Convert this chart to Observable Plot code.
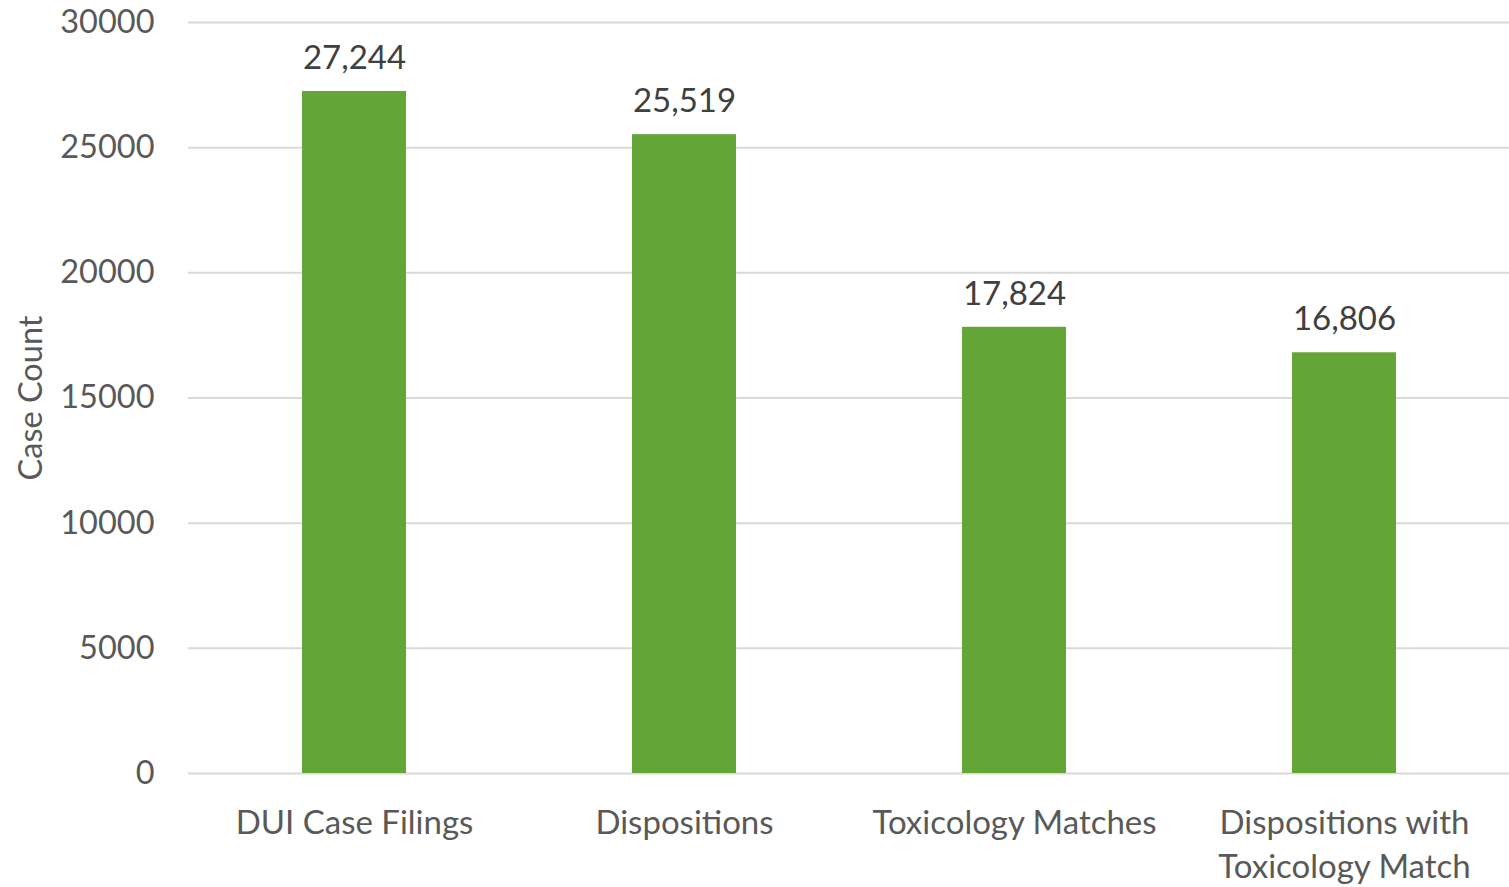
<!DOCTYPE html>
<html>
<head>
<meta charset="utf-8">
<script src="https://cdn.jsdelivr.net/npm/d3@7"></script>
<script src="https://cdn.jsdelivr.net/npm/@observablehq/plot@0.6"></script>
<style>
  html, body { margin: 0; padding: 0; background: #fff; }
  #chart svg { display: block; }
</style>
</head>
<body>
<div id="chart"></div>
<script>
// Case counts at each stage of the DUI / toxicology linkage
const categories = [
  "DUI Case Filings",
  "Dispositions",
  "Toxicology Matches",
  "Dispositions with\nToxicology Match"
];
const counts = [27244, 25519, 17824, 16806];
const yTicks = [0, 5000, 10000, 15000, 20000, 25000, 30000];

const rows = categories.map((c, i) => ({category: c, count: counts[i]}));
const fmt = d3.format(",");

const chart = Plot.plot({
  width: 1509,
  height: 887,
  marginLeft: 188,
  marginRight: 0,
  marginTop: 22,
  marginBottom: 114,
  style: {fontFamily: "Lato, 'Open Sans', sans-serif", background: "#fff"},
  x: {domain: categories, paddingInner: 0.685, paddingOuter: 0.3425},
  y: {domain: [0, 30000], ticks: yTicks},
  marks: [
    Plot.ruleY(yTicks, {stroke: "#d9d9d9", strokeWidth: 2}),
    Plot.barY(rows, {x: "category", y: "count", fill: "#63a537"}),
    Plot.text(rows, {
      x: "category", y: "count", text: d => fmt(d.count),
      dy: -33, fontSize: 33, fill: "#404040", lineAnchor: "middle"
    }),
    Plot.axisY({
      ticks: yTicks, tickSize: 0, tickPadding: 34, tickFormat: d => String(d),
      fontSize: 32.5, color: "#595959",
      label: "Case Count", labelAnchor: "center", labelArrow: "none", labelOffset: 170
    }),
    Plot.axisX({
      tickSize: 0, tickPadding: 29, fontSize: 33, color: "#595959",
      lineHeight: 1.34, label: null
    })
  ]
});

document.getElementById("chart").appendChild(chart);
</script>
</body>
</html>
